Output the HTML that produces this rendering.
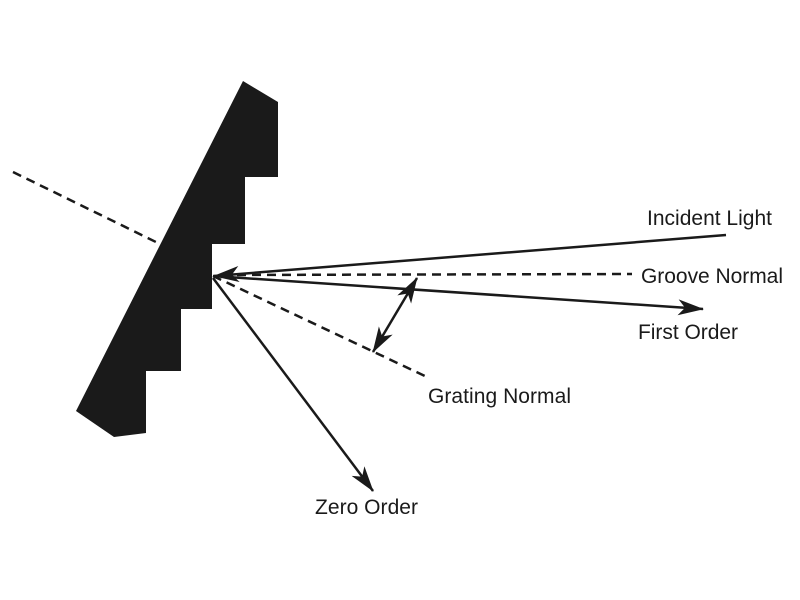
<!DOCTYPE html>
<html><head><meta charset="utf-8"><style>
html,body{margin:0;padding:0;background:#fff;}
svg{display:block;}
text{font-family:"Liberation Sans",sans-serif;font-size:21px;fill:#1a1a1a;}
</style></head><body>
<svg width="800" height="600" viewBox="0 0 800 600" xmlns="http://www.w3.org/2000/svg">
<defs>
<marker id="a" viewBox="0 0 26 16" refX="25" refY="8" markerWidth="26" markerHeight="16" markerUnits="userSpaceOnUse" orient="auto-start-reverse">
<path d="M0,0 L26,8 L0,16 L7,8 z" fill="#1a1a1a"/>
</marker>
</defs>
<polygon points="243,81 278,102 278,177 245,177 245,244 212,244 212,309 181,309 181,371 146,371 146,433 114,437 76,411" fill="#1a1a1a"/>
<g stroke="#1a1a1a" stroke-width="2.5" fill="none">
<line x1="13" y1="172" x2="160" y2="244" stroke-dasharray="9,6"/>
<line x1="213" y1="276" x2="427" y2="377" stroke-dasharray="9,6"/>
<line x1="222" y1="275" x2="632" y2="274" stroke-dasharray="9,6"/>
<line x1="726" y1="235" x2="214" y2="276" marker-end="url(#a)"/>
<line x1="213" y1="276" x2="703" y2="309" marker-end="url(#a)"/>
<line x1="213" y1="278" x2="373" y2="491" marker-end="url(#a)"/>
<line x1="417" y1="278" x2="373" y2="352" marker-start="url(#a)" marker-end="url(#a)"/>
</g>
<text x="647" y="225" textLength="125">Incident Light</text>
<text x="641" y="283" textLength="142">Groove Normal</text>
<text x="638" y="339" textLength="100">First Order</text>
<text x="428" y="403" textLength="143">Grating Normal</text>
<text x="315" y="514" textLength="103">Zero Order</text>
</svg>
</body></html>
